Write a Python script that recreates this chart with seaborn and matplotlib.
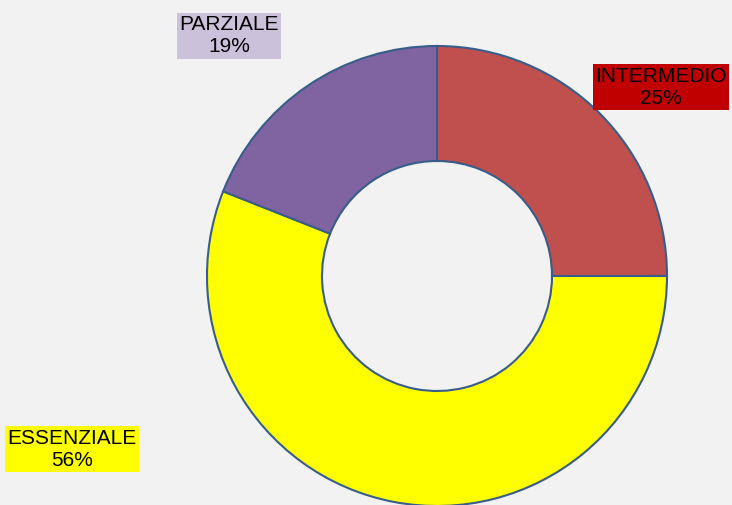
import matplotlib
matplotlib.use("Agg")
import matplotlib.pyplot as plt
import seaborn as sns

categories = ["INTERMEDIO", "ESSENZIALE", "PARZIALE"]
shares = [25, 56, 19]
slice_colors = ["#C0504D", "#FFFF00", "#8064A2"]
label_fills = ["#C00000", "#FFFF00", "#CCC1DA"]

sns.set_style("white")
plt.rcParams["font.family"] = ["Liberation Sans", "DejaVu Sans"]

fig = plt.figure(figsize=(7.32, 5.05), dpi=100)
fig.patch.set_facecolor("#F2F2F2")
ax = fig.add_axes([0, 0, 1, 1])
ax.set_facecolor("#F2F2F2")

# donut, pixel-like data coordinates
ax.pie(shares, colors=slice_colors, startangle=90, counterclock=False,
       center=(437, 229), radius=230, frame=True,
       wedgeprops=dict(width=115, edgecolor="#385D8A", linewidth=1.5))

ax.set_xlim(0, 732)
ax.set_ylim(0, 505)
ax.set_aspect("equal")
ax.axis("off")

# label positions (centres of the boxes)
label_pos = [(661, 418), (72, 56), (229, 469)]
for name, val, fill, (x, y) in zip(categories, shares, label_fills, label_pos):
    ax.text(x, y, f"{name}\n{val}%", ha="center", va="center",
            fontsize=15, color="black", linespacing=1.2,
            bbox=dict(boxstyle="square,pad=0.1", facecolor=fill,
                      edgecolor="none"))

fig.savefig("out.png", dpi=100, facecolor=fig.get_facecolor())
